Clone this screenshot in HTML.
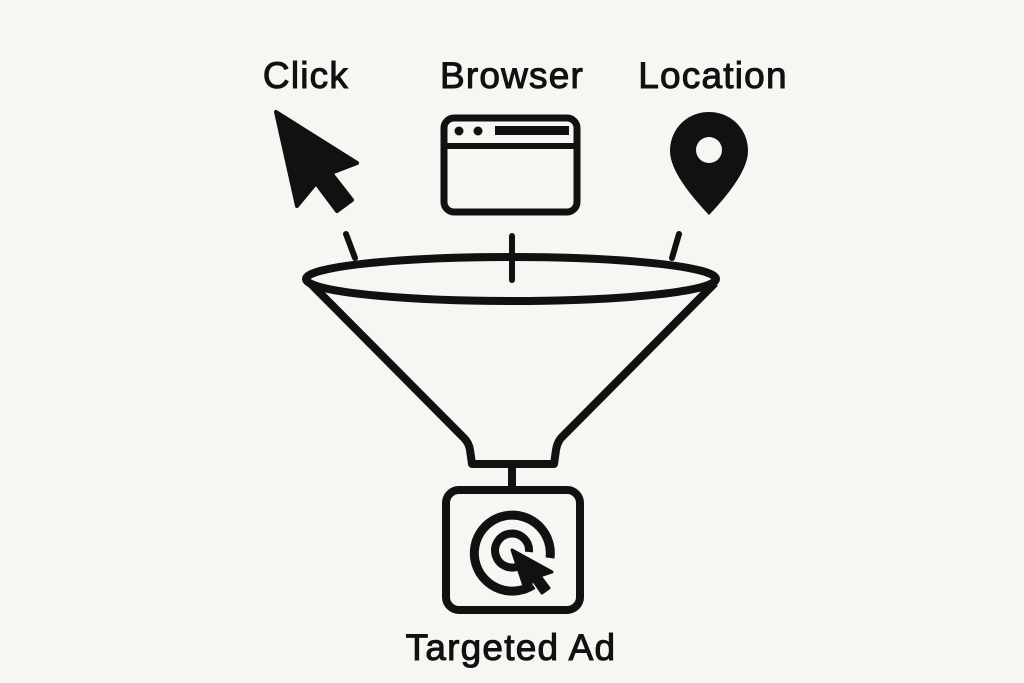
<!DOCTYPE html>
<html><head><meta charset="utf-8"><style>
html,body{margin:0;padding:0;background:#f8f6f2;}
svg{display:block}
text{font-family:"Liberation Sans",sans-serif;font-size:37px;letter-spacing:1.2px;fill:#111;stroke:#111;stroke-width:1px}
</style></head><body>
<svg width="1024" height="683" viewBox="0 0 1024 683" xmlns="http://www.w3.org/2000/svg">
<rect width="1024" height="683" fill="#f8f6f2"/>
<text x="306" y="88" text-anchor="middle">Click</text>
<text x="512" y="88" text-anchor="middle">Browser</text>
<text x="713" y="88" text-anchor="middle">Location</text>
<!-- cursor -->
<polygon points="276,112 297,206 316,183 337,211 352,200 331,173 357,163" fill="#111" stroke="#111" stroke-width="4" stroke-linejoin="round"/>
<!-- browser -->
<rect x="444" y="118" width="133" height="94" rx="10" fill="none" stroke="#111" stroke-width="7"/>
<line x1="444" y1="146" x2="577" y2="146" stroke="#111" stroke-width="6"/>
<circle cx="459" cy="131" r="4.5" fill="#111"/>
<circle cx="478" cy="131" r="4.5" fill="#111"/>
<rect x="495" y="126" width="74" height="9" fill="#111"/>
<!-- pin -->
<path d="M709,112 C687,112 670,129 670,151 C670,170 690,195 709,215 C728,195 748,170 748,151 C748,129 731,112 709,112 Z" fill="#111"/>
<circle cx="709" cy="150" r="13" fill="#f8f6f2"/>
<!-- ticks -->
<g stroke="#111" stroke-width="6" stroke-linecap="round" fill="none">
<line x1="346" y1="234" x2="355" y2="258"/>
<line x1="512" y1="236" x2="512" y2="280"/>
<line x1="679" y1="234" x2="672" y2="258"/>
</g>
<!-- funnel -->
<g stroke="#111" stroke-width="8" fill="none" stroke-linejoin="round">
<ellipse cx="511" cy="279" rx="205" ry="22"/>
<path d="M310,283 L464,438 Q469,443 470,450 L472,464 L554,464 L556,450 Q557,443 561,438 L715,283"/>
<line x1="512" y1="464" x2="512" y2="490"/>
<rect x="446" y="490" width="134" height="120" rx="13"/>
</g>
<!-- target -->
<g stroke="#111" fill="none">
<path d="M533,585 A38,38 0 1 1 550,558" stroke-width="9"/>
<path d="M521,565 A17,17 0 1 1 529,552" stroke-width="8"/>
</g>
<polygon points="512,550 526,592 533,580 542,593 549,588 540,576 552,572" fill="#111" stroke="#111" stroke-width="3" stroke-linejoin="round"/>
<text x="511" y="660" text-anchor="middle">Targeted Ad</text>
</svg>
</body></html>
